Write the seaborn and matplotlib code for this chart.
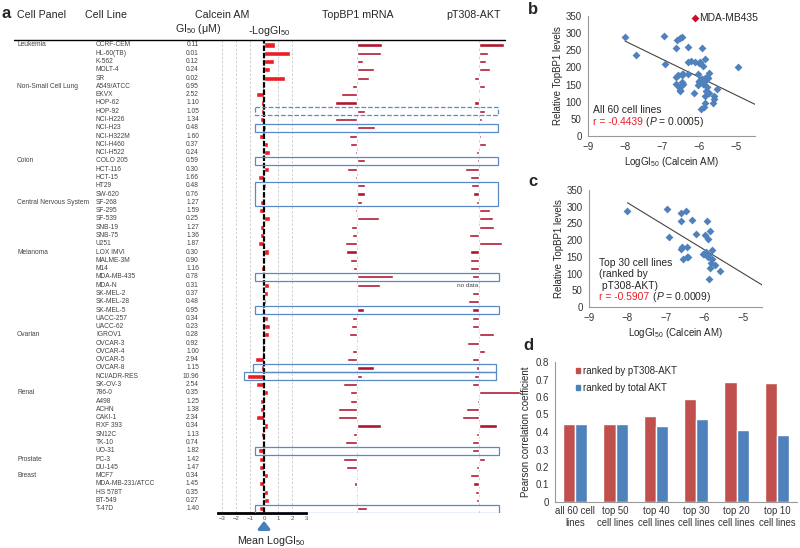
import numpy as np
import pandas as pd
import seaborn as sns
import matplotlib.pyplot as plt
from matplotlib.patches import Rectangle
from matplotlib.lines import Line2D
from matplotlib import transforms

# ---------------- data ----------------
panel_names = ["Leukemia", "Non-Small Cell Lung", "Colon", "Central Nervous System",
               "Melanoma", "Ovarian", "Renal", "Prostate", "Breast"]
panel_sizes = [5, 9, 5, 6, 10, 7, 8, 2, 5]

cell_lines = ["CCRF-CEM", "HL-60(TB)", "K-562", "MOLT-4", "SR",
              "A549/ATCC", "EKVX", "HOP-62", "HOP-92", "NCI-H226", "NCI-H23", "NCI-H322M", "NCI-H460", "NCI-H522",
              "COLO 205", "HCT-116", "HCT-15", "HT29", "SW-620",
              "SF-268", "SF-295", "SF-539", "SNB-19", "SNB-75", "U251",
              "LOX IMVI", "MALME-3M", "M14", "MDA-MB-435", "MDA-N", "SK-MEL-2", "SK-MEL-28", "SK-MEL-5", "UACC-257", "UACC-62",
              "IGROV1", "OVCAR-3", "OVCAR-4", "OVCAR-5", "OVCAR-8", "NCI/ADR-RES", "SK-OV-3",
              "786-0", "A498", "ACHN", "CAKI-1", "RXF 393", "SN12C", "TK-10", "UO-31",
              "PC-3", "DU-145",
              "MCF7", "MDA-MB-231/ATCC", "HS 578T", "BT-549", "T-47D"]

# Calcein AM GI50 (uM)
gi50 = [0.11, 0.01, 0.12, 0.24, 0.02,
        0.95, 2.52, 1.10, 1.05, 1.34, 0.48, 1.60, 0.37, 0.24,
        0.59, 0.30, 1.66, 0.48, 0.76,
        1.27, 1.59, 0.25, 1.27, 1.36, 1.87,
        0.30, 0.90, 1.16, 0.78, 0.31, 0.37, 0.48, 0.95, 0.34, 0.23,
        0.28, 0.92, 1.00, 2.94, 1.15, 10.96, 2.54,
        0.35, 1.25, 1.38, 2.34, 0.34, 1.13, 0.74, 1.82,
        1.42, 1.47,
        0.34, 1.45, 0.35, 0.27, 1.40]

# relative TopBP1 levels
topbp1 = [292, 288, 210, 258, 235,
          158, 107, 80, 215, 84, 261, 144, 151, 173,
          218, 135, 170, 215, 215,
          204, 172, 281, 155, 158, 125,
          131, 149, 165, 345, 285, 181, 181, 212, 158, 153,
          144, 181, 160, 138, 257, 202, 118,
          149, 151, 97, 97, 288, 165, 125, 184,
          118, 131,
          182, 169, 179, 179, 226]

# pT308-AKT relative to mean (a.u.), MDA-N: no data
akt = [7.4, 2.7, 2.2, 3.2, -1.4,
       1.8, -0.2, -1.6, 1.7, 1.0, -0.2, 0.7, 2.2, -1.0,
       -0.5, -4.1, -2.6, -2.3, -1.8,
       -0.8, 3.4, 4.2, 4.4, -3.1, 7.0,
       -2.8, -2.8, -2.8, -2.0, np.nan, -2.0, -3.2, -2.0, -2.2, -2.0,
       4.5, -3.5, 1.7, -2.2, -1.0, -1.5, -2.0,
       12.2, -0.5, -3.8, -5.2, 5.5, -1.0, -2.0, -2.0,
       1.7, -1.0,
       -2.6, -1.8, -1.2, -1.0, -0.2]

# boxes: first row, last row, left px, right px, linestyle
boxes = [("HOP-92", "HOP-92", 255, 498, "--"),
         ("NCI-H23", "NCI-H23", 255, 498, "-"),
         ("COLO 205", "COLO 205", 255, 498, "-"),
         ("HT29", "SF-268", 255, 498, "-"),
         ("MDA-MB-435", "MDA-MB-435", 255, 499, "-"),
         ("SK-MEL-5", "SK-MEL-5", 255, 499, "-"),
         ("OVCAR-8", "OVCAR-8", 253, 496, "-"),
         ("NCI/ADR-RES", "NCI/ADR-RES", 244, 496, "-"),
         ("UO-31", "UO-31", 255, 499, "-"),
         ("T-47D", "T-47D", 255, 499, "-")]

groups = ["all 60 cell\nlines", "top 50\ncell lines", "top 40\ncell lines",
          "top 30\ncell lines", "top 20\ncell lines", "top 10\ncell lines"]
r_pt308 = [0.444, 0.444, 0.494, 0.591, 0.688, 0.680]
r_total = [0.444, 0.444, 0.433, 0.477, 0.411, 0.385]

# ---------------- style ----------------
sns.set_style("white")
plt.rcParams['font.family'] = ['Liberation Sans', 'DejaVu Sans']
plt.rcParams['mathtext.fontset'] = 'custom'
plt.rcParams['mathtext.rm'] = 'Liberation Sans'
plt.rcParams['mathtext.it'] = 'Liberation Sans:italic'
plt.rcParams['mathtext.bf'] = 'Liberation Sans:bold'

RED = '#ee1c24'
CRIMSON = '#b0142f'
BLUE = '#4f81bd'
BOXBLUE = '#5a8ac6'
XLRED = '#c0504d'
GRAYTXT = '#444444'

W, H = 800, 548
fig = plt.figure(figsize=(8, 5.48), dpi=100)

def fx(px):
    return px / W

def fy(px):
    return 1 - px / H

df = pd.DataFrame({"line": cell_lines, "gi50": gi50, "topbp1": topbp1, "akt": akt})
df["panel"] = np.repeat(panel_names, panel_sizes)
df["log_gi50"] = np.log10(df["gi50"]) - 6          # molar
df["log_dev"] = np.log10(df["gi50"]).mean() - np.log10(df["gi50"])
df["mrna_dev"] = df["topbp1"] - df["topbp1"].mean()
n = len(df)

# ---------------- panel a ----------------
top_px, bot_px = 40, 512.5
rows_rect = lambda l, r: [fx(l), fy(bot_px), fx(r) - fx(l), (bot_px - top_px) / H]
ylim = (n - 1 + 0.45, -0.6)

ax_log = fig.add_axes(rows_rect(218, 306))
ax_log.patch.set_visible(False)
for v in [-3, -2, -1, 1, 2, 3]:
    ax_log.axvline(v, color='#c8c8c8', lw=0.6, ls=(0, (3, 2)), zorder=0)
sns.barplot(data=df, x="log_dev", y="line", orient='h', color=RED, width=0.62,
            saturation=1, ax=ax_log, zorder=2)
ax_log.axvline(0, color='black', lw=1.6, ls=(0, (2.5, 0.8)), zorder=3)
ax_log.set_xlim(-3.29, 3.0)
ax_log.set_ylim(*ylim)
ax_log.set_xticks(range(-3, 4))
ax_log.tick_params(axis='x', labelsize=4.3, colors='#555555', length=1.5, pad=1)
ax_log.set_yticks([])
ax_log.set_xlabel("")
ax_log.set_ylabel("")
for s in ['top', 'left', 'right']:
    ax_log.spines[s].set_visible(False)
ax_log.spines['bottom'].set_color('black')
ax_log.spines['bottom'].set_linewidth(2)

ax_mrna = fig.add_axes(rows_rect(310, 420))
ax_mrna.patch.set_visible(False)
ax_mrna.axvline(0, color='#c8c8c8', lw=0.6, ls=(0, (3, 2)), zorder=0)
sns.barplot(data=df, x="mrna_dev", y="line", orient='h', color=CRIMSON, width=0.38,
            saturation=1, ax=ax_mrna, zorder=2)
ax_mrna.set_xlim(-47 * 4.5, 63 * 4.5)
ax_mrna.set_ylim(*ylim)
ax_mrna.axis('off')

ax_akt = fig.add_axes(rows_rect(440, 525))
ax_akt.patch.set_visible(False)
ax_akt.axvline(0, color='#c8c8c8', lw=0.6, ls=(0, (3, 2)), zorder=0)
sns.barplot(data=df, x="akt", y="line", orient='h', color=CRIMSON, width=0.38,
            saturation=1, ax=ax_akt, zorder=2)
ax_akt.set_xlim(-11.7, 13.8)
ax_akt.set_ylim(*ylim)
ax_akt.axis('off')
nd = df.index[df["akt"].isna()][0]
ax_akt.text(-0.2, nd, "no data", fontsize=4.6, color=GRAYTXT, ha='right', va='center')

# text table + boxes
ax_tab = fig.add_axes(rows_rect(0, W))
ax_tab.set_xlim(0, W)
ax_tab.set_ylim(*ylim)
ax_tab.axis('off')
start = 0
for name, size in zip(panel_names, panel_sizes):
    ax_tab.text(17, start, name, fontsize=4.8, color=GRAYTXT, va='center')
    start += size
for i, row in df.iterrows():
    ax_tab.text(96, i, row["line"], fontsize=4.8, color=GRAYTXT, va='center')
    ax_tab.text(199, i, f'{row["gi50"]:.2f}', fontsize=4.8, color=GRAYTXT, va='center', ha='right')
pos = {name: i for i, name in enumerate(cell_lines)}
for first, last, x0, x1, ls in boxes:
    i0, i1 = pos[first], pos[last]
    ax_tab.add_patch(Rectangle((x0, i0 - 0.47), x1 - x0, i1 - i0 + 0.94, fill=False,
                               edgecolor=BOXBLUE, lw=0.9, ls=ls, zorder=5))

fig.add_artist(Line2D([fx(14), fx(505)], [fy(40), fy(40)], color='black', lw=1))
fig.text(fx(1), fy(13), "a", fontsize=12, fontweight='bold', va='center')
fig.text(fx(17), fy(15), "Cell Panel", fontsize=7.7, va='center')
fig.text(fx(85), fy(15), "Cell Line", fontsize=7.7, va='center')
fig.text(fx(222), fy(15), "Calcein AM", fontsize=7.7, va='center', ha='center')
fig.text(fx(198), fy(29), r"GI$_{50}$ (μM)", fontsize=7.7, va='center', ha='center')
fig.text(fx(269), fy(31), r"-LogGI$_{50}$", fontsize=7.7, va='center', ha='center')
fig.text(fx(358), fy(15), "TopBP1 mRNA", fontsize=7.7, va='center', ha='center')
fig.text(fx(474), fy(15), "pT308-AKT", fontsize=7.7, va='center', ha='center')

trans = transforms.blended_transform_factory(ax_log.transData, fig.transFigure)
ax_log.annotate("", xy=(0, fy(518)), xytext=(0, fy(532)), xycoords=trans, textcoords=trans,
                arrowprops=dict(arrowstyle='-|>,head_width=0.35,head_length=0.45',
                                color='#4a7ebb', lw=2.2), annotation_clip=False)
fig.text(fx(271), fy(541), r"Mean LogGI$_{50}$", fontsize=7.7, va='center', ha='center')


# ---------------- panels b / c ----------------
def style_scatter_ax(ax):
    sns.despine(ax=ax)
    for s in ['left', 'bottom']:
        ax.spines[s].set_color('#9a9a9a')
        ax.spines[s].set_linewidth(0.8)
    ax.tick_params(labelsize=7, colors='#333333', length=2.5, width=0.6, pad=2, direction='out')
    ax.tick_params(color='#9a9a9a')
    ax.set_xlim(-9, -4.5)
    ax.set_xticks([-9, -8, -7, -6, -5])
    ax.set_ylim(0, 350)
    ax.set_yticks(range(0, 351, 50))
    ax.set_xlabel(r"LogGI$_{50}$ (Calcein AM)", fontsize=7, labelpad=2)
    ax.set_ylabel("Relative TopBP1 levels", fontsize=7, labelpad=2)


def fit_line(ax, x, y):
    k, b = np.polyfit(x, y, 1)
    xs = np.array([x.min(), -4.5])
    ax.plot(xs, k * xs + b, color='#444444', lw=0.8, zorder=1)


axb = fig.add_axes([fx(588), fy(136), fx(755) - fx(588), 120 / H])
axb.patch.set_visible(False)
mda = df["line"] == "MDA-MB-435"
sns.scatterplot(data=df[~mda], x="log_gi50", y="topbp1", marker='D', color=BLUE, s=16,
                linewidth=0, ax=axb, zorder=2)
sns.scatterplot(data=df[mda], x="log_gi50", y="topbp1", marker='D', color='#c8102e', s=16,
                linewidth=0, ax=axb, zorder=3, clip_on=False)
fit_line(axb, df["log_gi50"], df["topbp1"])
style_scatter_ax(axb)
m = df[mda].iloc[0]
axb.annotate("MDA-MB435", (m["log_gi50"], m["topbp1"]), xytext=(3, 0), textcoords='offset points',
             fontsize=7.4, va='center', annotation_clip=False)
axb.text(0.03, 0.22, "All 60 cell lines", transform=axb.transAxes, fontsize=7.4, va='center')
t1 = axb.text(0.03, 0.115, "r = -0.4439", transform=axb.transAxes, fontsize=7.4, va='center', color='#e8202a')
axb.annotate(r" ($P$ = 0.0005)", xy=(1, 0.5), xycoords=t1, fontsize=7.4, va='center')
fig.text(fx(528), fy(9), "b", fontsize=12, fontweight='bold', va='center')

axc = fig.add_axes([fx(589), fy(307), fx(762) - fx(589), 117 / H])
axc.patch.set_visible(False)
top30 = df.nlargest(30, "akt")
sns.scatterplot(data=top30, x="log_gi50", y="topbp1", marker='D', color=BLUE, s=16,
                linewidth=0, ax=axc, zorder=2)
fit_line(axc, top30["log_gi50"], top30["topbp1"])
style_scatter_ax(axc)
axc.text(0.06, 0.14, "Top 30 cell lines\n(ranked by\n pT308-AKT)", transform=axc.transAxes,
         fontsize=7.4, va='bottom', linespacing=1.15)
t2 = axc.text(0.06, 0.085, "r = -0.5907", transform=axc.transAxes, fontsize=7.4, va='center', color='#e8202a')
axc.annotate(r" ($P$ = 0.0009)", xy=(1, 0.5), xycoords=t2, fontsize=7.4, va='center')
fig.text(fx(528), fy(181), "c", fontsize=12, fontweight='bold', va='center')

# ---------------- panel d ----------------
axd = fig.add_axes([fx(555), fy(502), fx(797) - fx(555), 140 / H])
axd.patch.set_visible(False)
dd = pd.DataFrame({"group": groups * 2,
                   "r": r_pt308 + r_total,
                   "rank": ["ranked by pT308-AKT"] * 6 + ["ranked by total AKT"] * 6})
sns.barplot(data=dd, x="group", y="r", hue="rank", palette=[XLRED, BLUE], width=0.6,
            saturation=1, ax=axd)
sns.despine(ax=axd)
for s in ['left', 'bottom']:
    axd.spines[s].set_color('#9a9a9a')
    axd.spines[s].set_linewidth(0.8)
axd.set_ylim(0, 0.8)
axd.set_yticks(np.arange(0, 0.81, 0.1))
axd.set_yticklabels([f'{v:g}' for v in np.round(np.arange(0, 0.81, 0.1), 1)])
axd.tick_params(axis='y', labelsize=7, colors='#333333', length=2.5, width=0.6, pad=2)
axd.tick_params(axis='x', labelsize=6.9, colors='#333333', length=0, pad=3)
axd.tick_params(color='#9a9a9a')
axd.set_xlabel("")
axd.set_ylabel("Pearson correlation coefficient", fontsize=7, labelpad=3)
handles = [Rectangle((0, 0), 1, 1, color=XLRED), Rectangle((0, 0), 1, 1, color=BLUE)]
axd.legend(handles, ["ranked by pT308-AKT", "ranked by total AKT"], loc='upper left',
           bbox_to_anchor=(0.07, 1.0), frameon=False, fontsize=6.9, handlelength=0.45,
           handleheight=0.45, handletextpad=0.3, labelspacing=0.7, borderaxespad=0)
fig.text(fx(523), fy(345), "d", fontsize=12, fontweight='bold', va='center')

fig.savefig("out.png", dpi=100)
